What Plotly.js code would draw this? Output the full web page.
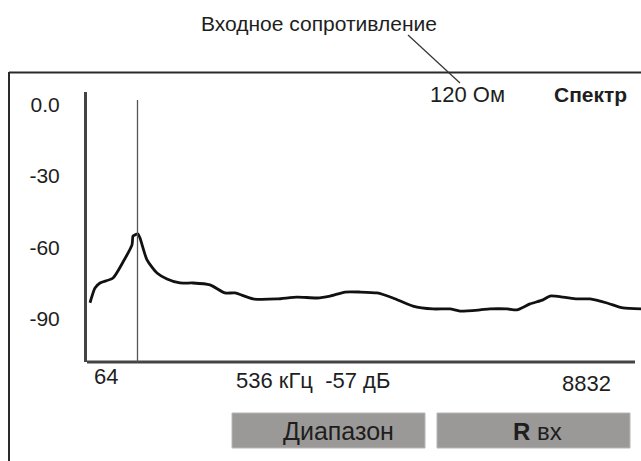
<!DOCTYPE html>
<html>
<head>
<meta charset="utf-8">
<script src="https://cdn.plot.ly/plotly-3.0.1.min.js"></script>
<style>html,body{margin:0;padding:0;background:#fff;}#chart{width:641px;height:461px;}</style>
</head>
<body>
<div id="chart"></div>
<script>
// Spectrum data (frequency in kHz, level in dB)
var freqKHz = [112, 192, 272, 480, 640, 784, 800, 832, 880, 912, 1024, 1184, 1344, 1552, 1760, 2032, 2272, 2432, 2720, 3104, 3424, 3744, 3952, 4192, 4432, 4704, 4960, 5280, 5600, 5872, 6032, 6352, 6512, 6784, 6944, 7152, 7360, 7472, 7680, 7904, 8112, 8384, 8640, 8928];
var levelDB = [-83.3, -77.1, -75.0, -72.9, -66.2, -59.0, -55.3, -54.8, -54.4, -56.1, -65.3, -70.8, -73.3, -75.0, -75.0, -75.8, -79.2, -79.2, -81.7, -81.7, -80.9, -81.3, -80.5, -78.8, -78.8, -79.2, -81.3, -84.7, -85.9, -85.9, -86.8, -86.3, -85.9, -85.9, -86.3, -83.8, -82.1, -80.5, -80.9, -81.7, -81.7, -83.4, -85.5, -85.9];
var yTickVals = [0, -30, -60, -90];
var yTickText = ["0.0", "-30", "-60", "-90"];
var freqStart = 64, freqEnd = 8832;
var cursorFreq = 872;
var cursorTop = 1.9;
var yMin = -108.2, yMax = 5.25;
var xMax = 8928;
var labelTitle = "Входное сопротивление";
var labelR = "120 Ом";
var labelMode = "Спектр";
var labelStart = "64";
var labelCursor = "536 кГц  -57 дБ";
var labelEnd = "8832";
var btn1 = "Диапазон";
var btn2 = "<b>R</b> вх";

var L = 87, R = 641, T = 92, B = 362;
function px(x){ return (x - L) / (R - L); }
function py(y){ return (B - y) / (B - T); }
var FONT = "Liberation Sans, Arial, sans-serif";
var TXT = "#1e1e1e";

var traces = [{
  x: freqKHz, y: levelDB, type: "scatter", mode: "lines",
  line: {color: "#111", width: 2.8, shape: "spline", smoothing: 0.6},
  hoverinfo: "skip", showlegend: false
}];

function ann(text, x, y, size, xanchor, extra){
  var a = {text: text, xref: "paper", yref: "paper", x: px(x), y: py(y),
    xanchor: xanchor || "left", yanchor: "middle", showarrow: false,
    font: {family: FONT, size: size, color: TXT}};
  if (extra) for (var k in extra) a[k] = extra[k];
  return a;
}

var layout = {
  width: 641, height: 461,
  margin: {l: L, r: 641 - R, t: T, b: 461 - B, pad: 0},
  paper_bgcolor: "#fff", plot_bgcolor: "#fff",
  showlegend: false,
  xaxis: {range: [freqStart, xMax], showgrid: false, zeroline: false, showline: false,
    showticklabels: false, ticks: "", fixedrange: true},
  yaxis: {range: [yMin, yMax], showgrid: false, zeroline: false, showline: true,
    linecolor: "#444", linewidth: 3, tickmode: "array", tickvals: yTickVals, ticktext: yTickText,
    ticks: "outside", ticklen: 20, tickcolor: "rgba(0,0,0,0)",
    tickfont: {family: FONT, size: 21, color: TXT}, fixedrange: true},
  shapes: [
    // x axis line from start to end frequency
    {type: "line", xref: "x", yref: "paper", x0: freqStart, x1: freqEnd, y0: 0, y1: 0,
      line: {color: "#444", width: 3}},
    // cursor
    {type: "line", xref: "x", yref: "y", x0: cursorFreq, x1: cursorFreq, y0: yMin, y1: cursorTop,
      line: {color: "#555", width: 1.3}},
    // outer frame
    {type: "line", xref: "paper", yref: "paper", x0: px(9), x1: px(641), y0: py(72.5), y1: py(72.5),
      line: {color: "#2a2a2a", width: 2}},
    {type: "line", xref: "paper", yref: "paper", x0: px(9), x1: px(9), y0: py(72), y1: py(462),
      line: {color: "#2a2a2a", width: 2}},
    // leader line
    {type: "line", xref: "paper", yref: "paper", x0: px(408), x1: px(460), y0: py(35), y1: py(83),
      line: {color: "#333", width: 1.2}},
    // buttons
    {type: "rect", xref: "paper", yref: "paper", x0: px(232), x1: px(425), y0: py(448), y1: py(413),
      fillcolor: "#9b9997", line: {color: "#b8b6b4", width: 1}},
    {type: "rect", xref: "paper", yref: "paper", x0: px(437), x1: px(630), y0: py(448), y1: py(413),
      fillcolor: "#9b9997", line: {color: "#b8b6b4", width: 1}}
  ],
  annotations: [
    ann(labelTitle, 319, 23, 21, "center"),
    ann(labelR, 428, 95, 22, "left"),
    ann("<b>" + labelMode + "</b>", 552, 95, 21, "left"),
    ann(labelStart, 92, 376, 22, "left"),
    ann(labelCursor, 234, 380, 22, "left"),
    ann(labelEnd, 560, 383, 22, "left"),
    ann(btn1, 338, 431, 25, "center"),
    ann(btn2, 537, 431, 24, "center")
  ]
};

Plotly.newPlot("chart", traces, layout, {displayModeBar: false, staticPlot: true});
</script>
</body>
</html>
